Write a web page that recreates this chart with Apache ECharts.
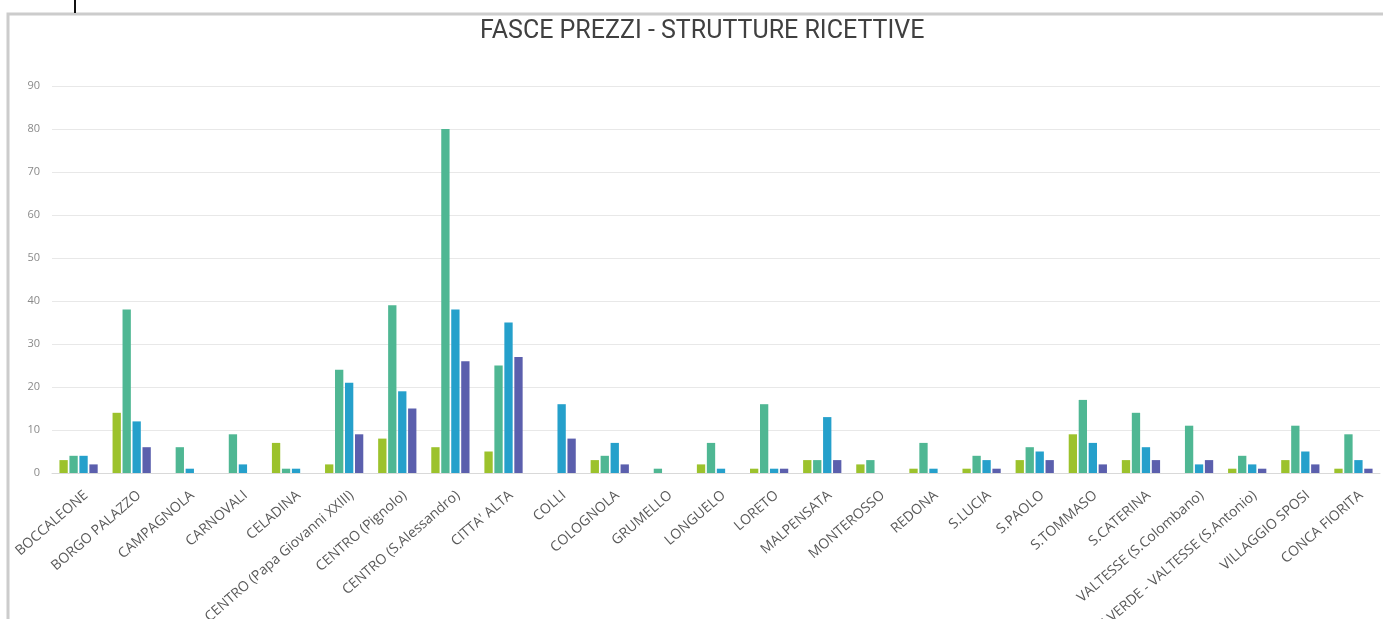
<!DOCTYPE html>
<html>
<head>
<meta charset="utf-8">
<script src="https://cdn.jsdelivr.net/npm/echarts@6/dist/echarts.min.js"></script>
<style>
  html, body { margin: 0; padding: 0; background: #fff; }
  #chart { width: 1383px; height: 619px; }
</style>
</head>
<body>
<div id="chart"></div>
<script>
// quartieri
var categories = [
  'BOCCALEONE', 'BORGO PALAZZO', 'CAMPAGNOLA', 'CARNOVALI', 'CELADINA',
  'CENTRO (Papa Giovanni XXIII)', 'CENTRO (Pignolo)', 'CENTRO (S.Alessandro)',
  "CITTA' ALTA", 'COLLI', 'COLOGNOLA', 'GRUMELLO', 'LONGUELO', 'LORETO',
  'MALPENSATA', 'MONTEROSSO', 'REDONA', 'S.LUCIA', 'S.PAOLO', 'S.TOMMASO',
  'S.CATERINA', 'VALTESSE (S.Colombano)', 'VALVERDE - VALTESSE (S.Antonio)',
  'VILLAGGIO SPOSI', 'CONCA FIORITA'
]

// fasce di prezzo (4 serie)
var fascia1 = [3, 14, 0, 0, 7, 2, 8, 6, 5, 0, 3, 0, 2, 1, 3, 2, 1, 1, 3, 9, 3, 0, 1, 3, 1]
var fascia2 = [4, 38, 6, 9, 1, 24, 39, 80, 25, 0, 4, 1, 7, 16, 3, 3, 7, 4, 6, 17, 14, 11, 4, 11, 9]
var fascia3 = [4, 12, 1, 2, 1, 21, 19, 38, 35, 16, 7, 0, 1, 1, 13, 0, 1, 3, 5, 7, 6, 2, 2, 5, 3]
var fascia4 = [2, 6, 0, 0, 0, 9, 15, 26, 27, 8, 2, 0, 0, 1, 3, 0, 0, 1, 3, 2, 3, 3, 1, 2, 1]

var yTicks = { min: 0, max: 90, interval: 10 }

var colors = ['#9cc22c', '#4fb793', '#25a0cb', '#5b5fad']

var chart = echarts.init(document.getElementById('chart'))

var mkSeries = function (name, data) {
  return {
    name: name,
    type: 'bar',
    data: data,
    barGap: '20%',
    barCategoryGap: '28%',
    silent: true
  }
}

var option = {
  animation: false,
  color: colors,
  textStyle: { fontFamily: 'Open Sans' },
  title: {
    text: 'FASCE PREZZI - STRUTTURE RICETTIVE',
    left: 475,
    top: 14,
    textStyle: {
      fontFamily: 'Roboto',
      fontSize: 25,
      fontWeight: 'normal',
      color: '#404040'
    }
  },
  grid: {
    left: 52,
    right: 3,
    top: 86,
    bottom: 146,
    containLabel: false,
    outerBoundsMode: 'none'
  },
  xAxis: {
    type: 'category',
    data: categories,
    axisLine: { lineStyle: { color: '#d9d9d9' } },
    axisTick: { show: false },
    axisLabel: {
      interval: 0,
      rotate: 41,
      color: '#595959',
      fontSize: 14,
      margin: 27,
      padding: [0, -10, 0, 0]
    }
  },
  yAxis: {
    type: 'value',
    min: yTicks.min,
    max: yTicks.max,
    interval: yTicks.interval,
    axisLine: { show: false },
    axisTick: { show: false },
    splitLine: { lineStyle: { color: '#e8e8e8' } },
    axisLabel: { color: '#8a8a8a', fontSize: 11, margin: 12 }
  },
  graphic: [
    {
      type: 'rect',
      shape: { x: 8, y: 14, width: 1390, height: 620 },
      style: { fill: 'none', stroke: '#cccccc', lineWidth: 3 },
      silent: true
    },
    {
      type: 'rect',
      shape: { x: 74, y: 0, width: 2, height: 13 },
      style: { fill: '#111' },
      silent: true
    }
  ],
  series: [
    mkSeries('Fascia 1', fascia1),
    mkSeries('Fascia 2', fascia2),
    mkSeries('Fascia 3', fascia3),
    mkSeries('Fascia 4', fascia4)
  ]
}

chart.setOption(option)
</script>
</body>
</html>
